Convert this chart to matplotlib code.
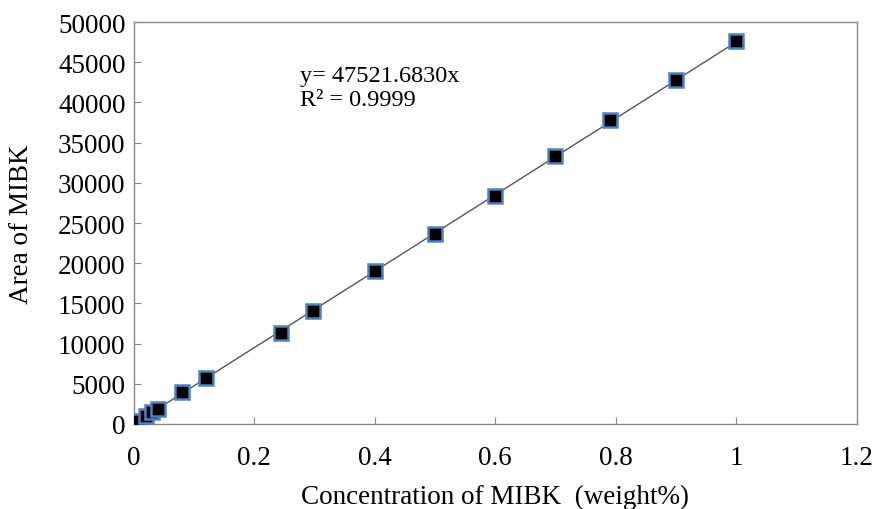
import matplotlib
matplotlib.use("Agg")
import matplotlib.pyplot as plt
import numpy as np

# calibration data
conc = [0.003, 0.008, 0.02, 0.03, 0.04, 0.08, 0.12, 0.245, 0.298,
        0.40, 0.50, 0.60, 0.70, 0.79, 0.90, 1.00]
area = [150, 380, 950, 1430, 1870, 3980, 5720, 11300, 14100,
        19000, 23600, 28400, 33400, 37800, 42800, 47700]
slope = 47521.6830
fit_x = [0.0, 1.0]

plt.rcParams["font.family"] = ["Liberation Serif", "DejaVu Serif"]

fig = plt.figure(figsize=(8.75, 5.1), dpi=100)
ax = fig.add_axes([0.153, 0.1667, 0.826, 0.788])

ax.plot(fit_x, [slope * x for x in fit_x], color="#555555", lw=1.0, zorder=2)
ax.plot(conc, area, ls="none", marker="s", markersize=9.5,
        markerfacecolor="black", markeredgecolor="#4f81bd",
        markeredgewidth=1.8, zorder=3)

ax.set_xlim(0, 1.2)
ax.set_ylim(0, 50000)
ax.set_xticks(np.arange(0, 1.21, 0.2))
ax.set_xticklabels(["0", "0.2", "0.4", "0.6", "0.8", "1", "1.2"])
ax.set_yticks(np.arange(0, 50001, 5000))
ax.tick_params(direction="in", length=5, color="#888888", labelsize=19.5)
ax.tick_params(axis="x", pad=15)
ax.tick_params(axis="y", pad=6)
for s in ax.spines.values():
    s.set_color("#888888")
    s.set_linewidth(1.0)

ax.set_xlabel("Concentration of MIBK  (weight%)", fontsize=19.5, labelpad=10)
ax.set_ylabel("Area of MIBK", fontsize=19.5, labelpad=17)

ax.text(0.276, 44700, "y= 47521.6830x\nR² = 0.9999", fontsize=17.5,
        va="top", ha="left", linespacing=1.2)

fig.savefig("out.png", dpi=100)
